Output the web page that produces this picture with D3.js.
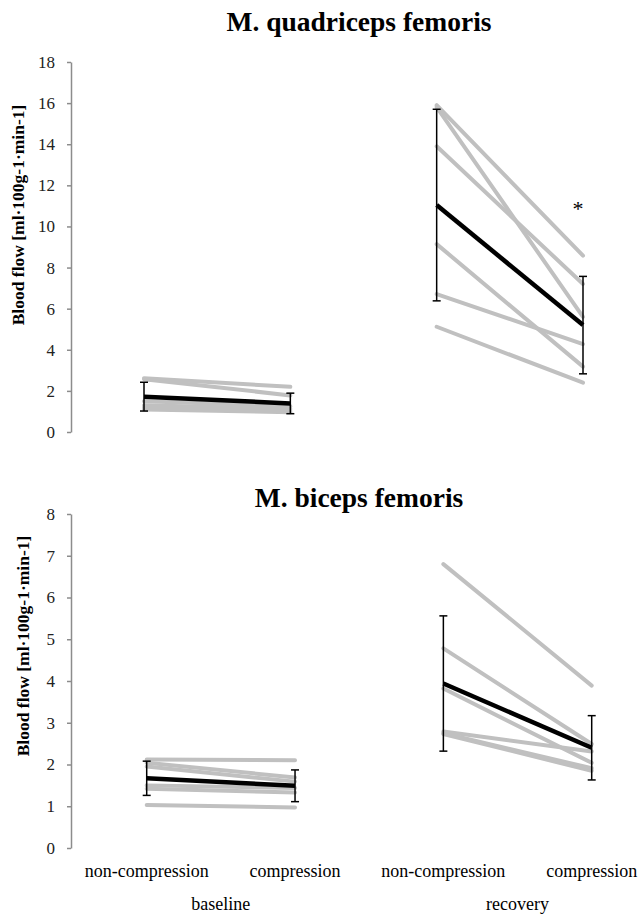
<!DOCTYPE html>
<html>
<head>
<meta charset="utf-8">
<script src="https://cdn.jsdelivr.net/npm/d3@7"></script>
<style>
  body { margin: 0; background: #fff; }
  svg text { font-family: "Liberation Serif", "Times New Roman", serif !important; }
</style>
</head>
<body>
<svg id="chart" width="638" height="914"></svg>
<script>
// x categories (shared by both panels)
const conditions = ["non-compression", "compression", "non-compression", "compression"];
const phases = ["baseline", "recovery"];

// M. quadriceps femoris - single subjects [non-compression, compression]
const quadBaseline = [[2.62, 2.2], [2.57, 1.78], [1.5, 1.25], [1.3, 1.12], [1.2, 1.02], [1.1, 0.96]];
const quadRecovery = [[15.9, 8.58], [15.8, 5.6], [13.9, 7.2], [9.14, 3.18], [6.71, 4.28], [5.12, 2.4]];
const quadMean = [1.72, 1.39, 11.04, 5.2];
const quadSd = [0.7, 0.5, 4.66, 2.37];

// M. biceps femoris
const bicBaseline = [[2.12, 2.1], [2.04, 1.69], [1.95, 1.59], [1.5, 1.44], [1.42, 1.33], [1.03, 0.97]];
const bicRecovery = [[6.8, 3.89], [4.78, 2.49], [3.82, 2.04], [2.79, 2.31], [2.75, 1.91], [2.73, 1.85]];
const bicMean = [1.67, 1.49, 3.94, 2.4];
const bicSd = [0.41, 0.38, 1.62, 0.77];

const panels = [
  { title: "M. quadriceps femoris", titleY: 31, yMax: 18, yStep: 2, top: 62, bottom: 432, x0: 144, x1: 583,
    labelX: 24, labelY: 215,
    baseline: quadBaseline, recovery: quadRecovery, mean: quadMean, sd: quadSd, star: { cat: 3, value: 11 } },
  { title: "M. biceps femoris", titleY: 507, yMax: 8, yStep: 1, top: 514, bottom: 848, x0: 146.7, x1: 591.7,
    labelX: 29, labelY: 646,
    baseline: bicBaseline, recovery: bicRecovery, mean: bicMean, sd: bicSd, star: null }
];

const svg = d3.select("#chart");
const axisX = 71;
const grey = "#c0c0c0";

panels.forEach((p, pi) => {
  const x = d3.scalePoint().domain(d3.range(conditions.length)).range([p.x0, p.x1]);
  const y = d3.scaleLinear().domain([0, p.yMax]).range([p.bottom, p.top]);
  const g = svg.append("g");

  g.append("text")
    .attr("x", 359).attr("y", p.titleY)
    .attr("text-anchor", "middle")
    .attr("font-size", 27.5).attr("font-weight", "bold")
    .text(p.title);

  const axis = g.append("g")
    .attr("transform", `translate(${axisX},0)`)
    .call(d3.axisLeft(y).tickValues(d3.range(0, p.yMax + 0.001, p.yStep)).tickSizeOuter(0).tickSizeInner(4).tickPadding(12));
  axis.selectAll("path, line").attr("stroke", "#8c8c8c").attr("stroke-width", 1.5);
  axis.selectAll("text").attr("font-size", 17).attr("fill", "#222");

  g.append("text")
    .attr("transform", `translate(${p.labelX},${p.labelY}) rotate(-90)`)
    .attr("text-anchor", "middle")
    .attr("font-size", 17.5).attr("font-weight", "bold")
    .text("Blood flow [ml·100g-1·min-1]");

  const line = d3.line().x(d => x(d[0])).y(d => y(d[1]));

  // single subjects
  [[p.baseline, 0], [p.recovery, 2]].forEach(([rows, off]) => {
    g.selectAll(null).data(rows).join("path")
      .attr("d", r => line(r.map((v, i) => [off + i, v])))
      .attr("fill", "none").attr("stroke", grey)
      .attr("stroke-width", 4).attr("stroke-linecap", "round");
  });

  // mean lines
  [0, 2].forEach(off => {
    g.append("path")
      .attr("d", line([[off, p.mean[off]], [off + 1, p.mean[off + 1]]]))
      .attr("fill", "none").attr("stroke", "#000").attr("stroke-width", 4.5);
  });

  // error bars
  const eb = g.selectAll(null).data(p.mean.map((m, i) => ({ i, lo: m - p.sd[i], hi: m + p.sd[i] }))).join("g");
  eb.append("line")
    .attr("x1", d => x(d.i)).attr("x2", d => x(d.i))
    .attr("y1", d => y(d.lo)).attr("y2", d => y(d.hi));
  eb.append("line")
    .attr("x1", d => x(d.i) - 4).attr("x2", d => x(d.i) + 4)
    .attr("y1", d => y(d.hi)).attr("y2", d => y(d.hi));
  eb.append("line")
    .attr("x1", d => x(d.i) - 4).attr("x2", d => x(d.i) + 4)
    .attr("y1", d => y(d.lo)).attr("y2", d => y(d.lo));
  eb.selectAll("line").attr("stroke", "#000").attr("stroke-width", 1.5);

  if (p.star) {
    g.append("text")
      .attr("x", x(p.star.cat) - 5).attr("y", y(p.star.value) + 10)
      .attr("text-anchor", "middle").attr("font-size", 22)
      .text("*");
  }

  // category labels only below the last panel
  if (pi === panels.length - 1) {
    g.selectAll(null).data(conditions).join("text")
      .attr("x", (d, i) => x(i)).attr("y", 877)
      .attr("text-anchor", "middle").attr("font-size", 18)
      .text(d => d);
    g.selectAll(null).data(phases).join("text")
      .attr("x", (d, i) => (x(i * 2) + x(i * 2 + 1)) / 2).attr("y", 910)
      .attr("text-anchor", "middle").attr("font-size", 18)
      .text(d => d);
  }
});
</script>
</body>
</html>
